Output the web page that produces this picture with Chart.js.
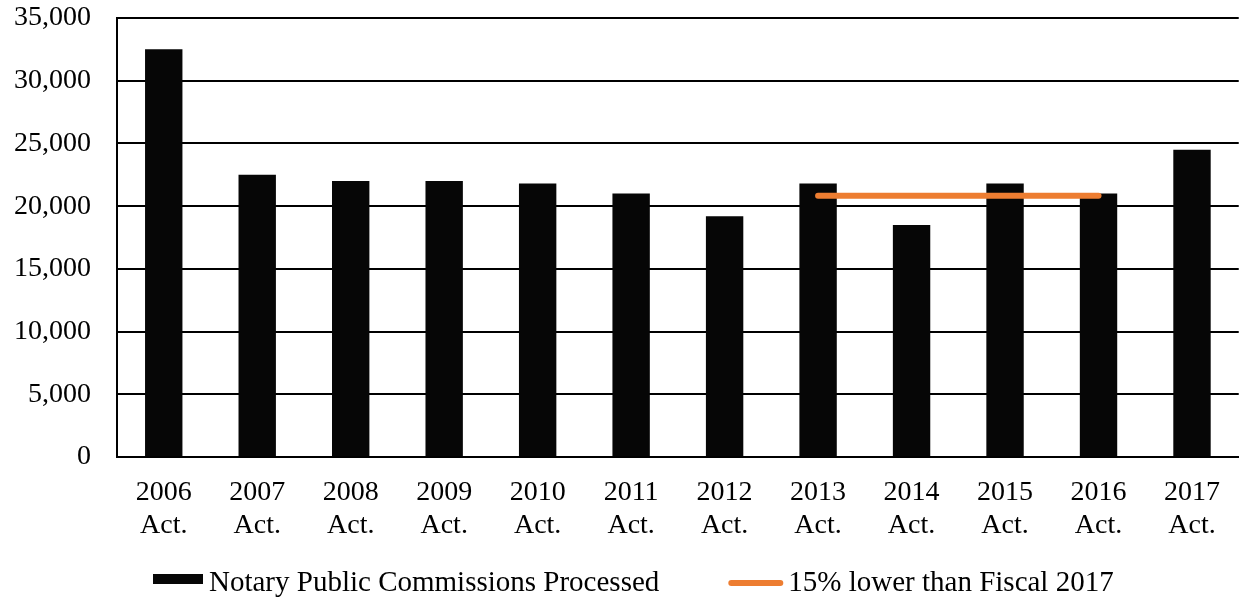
<!DOCTYPE html>
<html>
<head>
<meta charset="utf-8">
<script src="https://cdn.jsdelivr.net/npm/chart.js@4"></script>
<style>
  html, body { margin: 0; padding: 0; background: #fff; }
  canvas { display: block; }
</style>
</head>
<body>
<canvas id="notaryChart" width="1240" height="601"></canvas>
<script>
  // Fiscal years shown on the x axis
  const years = ['2006', '2007', '2008', '2009', '2010', '2011', '2012', '2013', '2014', '2015', '2016', '2017'];
  // Notary Public Commissions Processed
  const commissions = [32500, 22500, 22000, 22000, 21800, 21000, 19200, 21800, 18500, 21800, 21000, 24500];
  // 15% lower than Fiscal 2017 (only drawn 2013 - 2016)
  const targetLine = [null, null, null, null, null, null, null, 20825, 20825, 20825, 20825, null];
  const yTicks = [0, 5000, 10000, 15000, 20000, 25000, 30000, 35000];

  const serif = "'Liberation Serif', 'Times New Roman', serif";
  Chart.defaults.font.family = serif;
  Chart.defaults.color = '#000';

  // Legend drawn by hand so the box/text spacing matches the original
  const manualLegend = {
    id: 'manualLegend',
    afterDraw(chart) {
      const ctx = chart.ctx;
      const ds = chart.data.datasets;
      ctx.save();
      ctx.font = '29px ' + serif;
      ctx.fillStyle = '#000';
      ctx.textBaseline = 'alphabetic';
      const baseY = 591;
      let x = 153;
      // bar item
      ctx.fillStyle = ds[0].backgroundColor;
      ctx.fillRect(x, 574, 50, 10);
      x += 56;
      ctx.fillStyle = '#000';
      ctx.fillText(ds[0].label, x, baseY);
      x += ctx.measureText(ds[0].label).width + 72;
      // line item
      ctx.strokeStyle = ds[1].borderColor;
      ctx.lineWidth = 6;
      ctx.lineCap = 'round';
      ctx.beginPath();
      ctx.moveTo(x, 583);
      ctx.lineTo(x + 49, 583);
      ctx.stroke();
      x += 57;
      ctx.fillText(ds[1].label, x, baseY);
      ctx.restore();
    }
  };

  new Chart(document.getElementById('notaryChart'), {
    type: 'bar',
    data: {
      labels: years.map(y => [y, 'Act.']),
      datasets: [{
        label: 'Notary Public Commissions Processed',
        data: commissions,
        backgroundColor: '#060606',
        borderWidth: 0,
        barPercentage: 0.4,
        categoryPercentage: 1,
        order: 1
      }, {
        type: 'line',
        label: '15% lower than Fiscal 2017',
        data: targetLine,
        borderColor: '#ED7D31',
        borderWidth: 6,
        borderCapStyle: 'round',
        pointRadius: 0,
        fill: false,
        order: 0
      }]
    },
    options: {
      responsive: false,
      animation: false,
      devicePixelRatio: 1,
      layout: { padding: { top: 18, right: 0, bottom: 64, left: 0 } },
      scales: {
        x: {
          grid: { display: false, drawTicks: false },
          border: { color: '#000', width: 2 },
          ticks: {
            font: { size: 28, lineHeight: 1.15 },
            padding: 20,
            maxRotation: 0,
            autoSkip: false
          },
          afterFit(scale) { scale.height = 80; }
        },
        y: {
          min: 0,
          max: 35000,
          afterBuildTicks(scale) { scale.ticks = yTicks.map(v => ({ value: v })); },
          grid: { color: '#000', lineWidth: 2, drawTicks: false },
          border: { color: '#000', width: 2 },
          ticks: {
            font: { size: 28, lineHeight: 1.15 },
            padding: 26,
            callback: v => v.toLocaleString('en-US')
          },
          afterFit(scale) {
            scale.width = 117;
            scale.paddingTop = 0;
            scale.paddingBottom = 0;
          }
        }
      },
      plugins: {
        legend: { display: false },
        tooltip: { enabled: false }
      }
    },
    plugins: [manualLegend]
  });
</script>
</body>
</html>
